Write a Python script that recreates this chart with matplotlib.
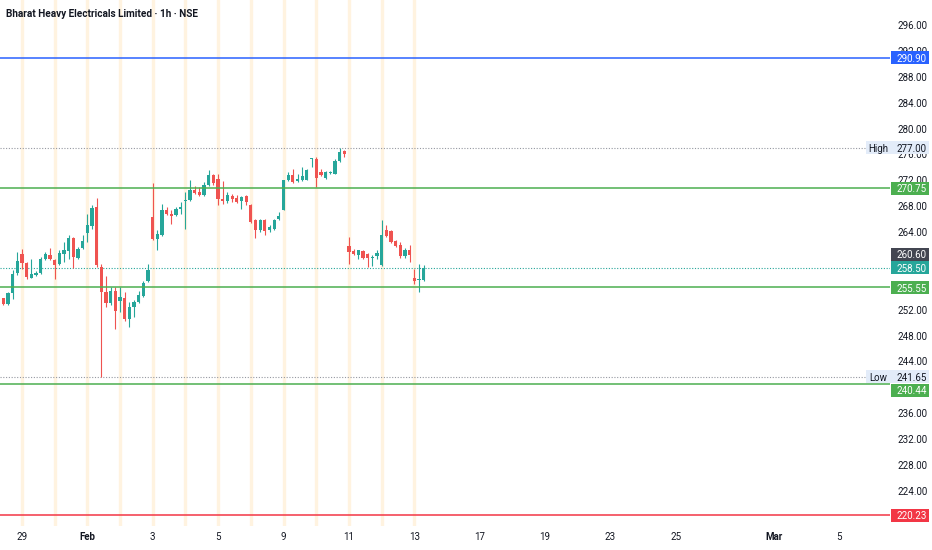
import numpy as np
import matplotlib
matplotlib.use('Agg')
import matplotlib.pyplot as plt
from matplotlib import transforms
from matplotlib.patches import Rectangle

plt.rcParams['font.family'] = ['Roboto', 'DejaVu Sans']

title = 'Bharat Heavy Electricals Limited · 1h · NSE'

# hourly bars, 7 per session; the first 4 are the tail of 28 Jan
opens = [253.77, 252.90, 254.55, 257.64,
         260.65, 259.19, 256.93, 257.29, 257.70, 259.81, 260.49,
         259.61, 258.99, 260.58, 261.00, 263.06, 259.97, 261.58,
         263.84, 264.92, 267.82, 258.57, 254.81, 253.00, 254.96,
         253.31, 253.83, 250.58, 252.38, 253.26, 254.19, 256.40,
         266.31, 262.86, 263.48, 267.46, 266.84, 266.58, 267.61,
         268.79, 269.01, 270.45, 270.19, 269.78, 271.22, 272.77,
         272.26, 269.16, 268.74, 269.52, 269.32, 268.74, 269.52,
         268.13, 265.80, 264.25, 265.80, 264.25, 264.52, 266.00,
         267.46, 272.00, 272.77, 271.84, 272.10, 272.10, 275.36,
         275.36, 273.28, 272.42, 273.19, 273.03, 274.99, 276.53,
         261.78, 261.05, 260.49, 261.05, 260.65, 259.97, 260.23,
         258.83, 264.36, 264.15, 262.60, 261.93, 260.23, 261.16,
         256.93, 256.62, 256.65]
highs = [253.88, 254.81, 258.06, 260.89,
         261.42, 259.35, 259.76, 258.01, 260.12, 260.89, 261.51,
         259.87, 261.16, 262.44, 263.48, 263.22, 261.67, 263.59,
         266.84, 268.23, 269.26, 259.10, 257.13, 255.47, 255.58,
         255.58, 254.70, 253.15, 253.52, 254.96, 256.51, 258.99,
         271.58, 264.25, 268.39, 267.86, 267.46, 267.86, 268.64,
         270.19, 272.10, 271.07, 270.96, 271.73, 273.55, 273.03,
         273.03, 271.89, 270.19, 269.94, 269.67, 269.52, 269.67,
         268.28, 266.07, 266.07, 266.07, 265.03, 266.07, 267.09,
         272.10, 273.28, 273.81, 273.03, 274.06, 273.81, 275.51,
         275.61, 273.81, 273.44, 273.44, 275.36, 277.00, 276.64,
         263.22, 261.42, 261.27, 261.27, 260.74, 260.38, 261.16,
         265.80, 265.03, 264.25, 262.71, 262.40, 261.47, 261.93,
         258.32, 258.99, 258.84]
lows = [252.75, 252.80, 253.68, 257.29,
        258.32, 256.77, 256.87, 257.18, 257.55, 259.72, 259.72,
        256.67, 258.83, 259.35, 259.87, 258.42, 259.87, 261.42,
        262.44, 264.52, 258.57, 241.65, 252.38, 252.80, 249.03,
        251.60, 250.21, 249.28, 250.94, 253.00, 253.93, 256.25,
        262.71, 261.16, 263.37, 266.58, 265.18, 266.42, 266.84,
        264.52, 268.79, 269.83, 269.52, 269.63, 271.07, 271.27,
        268.13, 268.39, 268.54, 268.64, 268.48, 267.61, 268.23,
        265.39, 263.06, 263.99, 263.48, 263.99, 264.36, 265.80,
        267.35, 271.89, 271.58, 271.73, 271.89, 272.00, 274.06,
        270.96, 272.62, 272.26, 273.03, 272.93, 274.83, 275.61,
        259.10, 260.38, 259.87, 259.87, 258.57, 258.68, 259.87,
        258.68, 263.22, 262.29, 261.63, 259.97, 259.92, 259.35,
        256.00, 254.70, 256.51]
closes = [252.84, 254.55, 257.55, 259.50,
          259.19, 257.02, 257.55, 257.70, 259.87, 260.58, 259.87,
          258.83, 260.80, 261.16, 263.06, 260.12, 261.42, 262.55,
          265.03, 267.71, 258.83, 254.70, 253.00, 254.96, 251.87,
          253.93, 250.58, 252.49, 253.26, 254.34, 256.20, 258.06,
          262.97, 263.64, 267.35, 266.73, 266.53, 267.61, 267.86,
          269.01, 270.45, 270.03, 269.78, 271.22, 272.77, 271.53,
          269.16, 268.74, 269.67, 269.16, 268.64, 269.41, 268.64,
          265.54, 264.25, 265.80, 264.15, 264.77, 265.80, 266.42,
          272.00, 272.88, 271.73, 272.15, 272.62, 273.65, 275.51,
          272.42, 272.77, 273.28, 273.34, 274.99, 276.38, 276.02,
          260.89, 260.65, 261.16, 260.03, 260.03, 260.12, 260.74,
          263.48, 263.33, 262.44, 261.78, 260.23, 261.16, 260.38,
          256.40, 256.65, 258.50]

bars_per_session = 7
n_sessions_drawn = 13          # 29 Jan .. 13 Feb
date_labels = ['29', 'Feb', '3', '5', '9', '11', '13', '17', '19', '23', '25', 'Mar', '5']
date_sessions = [0, 2, 4, 6, 8, 10, 12, 14, 16, 18, 20, 23, 25]

levels = [290.90, 270.75, 255.55, 240.44, 220.23]
level_colors = ['#2962ff', '#4caf50', '#4caf50', '#4caf50', '#f23645']
high_price = 277.00
low_price = 241.65
last_price = 258.50
prev_close = 260.60
# scale values hidden by the price labels
price_ticks = [296, 292, 288, 284, 280, 276, 272, 268, 264, 252, 248, 244, 236, 232, 228, 224]

UP = '#26a69a'
DOWN = '#ef5350'
TXT = '#131722'
PX_PER_UNIT = 6.47

fig = plt.figure(figsize=(9.32, 5.5), dpi=100)
ax = fig.add_axes([0, 1 - 526 / 550, 890 / 932, 526 / 550])
ax.set_xlim(-4.71, 185.87)
ax.set_ylim(218.57, 299.86)
for s in ax.spines.values():
    s.set_visible(False)

# session breaks
for s in range(n_sessions_drawn):
    ax.axvline(s * bars_per_session, color='#fff3e0', lw=2.4, zorder=0)

# candles
o, h, l, c = map(np.array, (opens, highs, lows, closes))
x = np.arange(len(o)) - 4
col = np.where(c >= o, UP, DOWN)
ax.vlines(x, l, h, colors=col, lw=0.8, zorder=2)
ax.bar(x, np.maximum(np.abs(c - o), 0.12), bottom=np.minimum(o, c), width=0.7,
       color=col, lw=0, zorder=2)

# horizontal levels
for lv, lc in zip(levels, level_colors):
    ax.axhline(lv, color=lc, lw=1.1, zorder=3)
for p in (high_price, low_price):
    ax.axhline(p, color='#9598a1', lw=0.8, ls=(0, (1, 1.5)), zorder=1)
ax.axhline(last_price, color=UP, lw=0.8, ls=(0, (1, 1.5)), zorder=1)

# price scale
ax.yaxis.tick_right()
ax.set_yticks(price_ticks)
ax.yaxis.set_major_formatter(matplotlib.ticker.FormatStrFormatter('%.2f'))
ax.tick_params(axis='y', length=0, pad=5.5, labelsize=7, labelcolor=TXT)

ax.set_xticks([s * bars_per_session for s in date_sessions], date_labels)
ax.tick_params(axis='x', length=0, pad=4.5, labelsize=7, labelcolor=TXT)
for lbl in ax.get_xticklabels():
    if lbl.get_text() in ('Feb', 'Mar'):
        lbl.set_fontweight('bold')

blend = transforms.blended_transform_factory(ax.transAxes, ax.transData)
box_h = 13 / PX_PER_UNIT


def price_label(price, face, fg, shift_px=0, tag=None):
    yc = price - shift_px / PX_PER_UNIT
    x0 = (866 if tag else 891) / 890
    ax.add_patch(Rectangle((x0, yc - box_h / 2), 929 / 890 - x0, box_h, transform=blend,
                           fc=face, ec='none', clip_on=False, zorder=6))
    ax.text(911.5 / 890, yc, f'{price:.2f}', transform=blend, ha='center',
            va='center_baseline', color=fg, fontsize=7, zorder=7, clip_on=False)
    if tag:
        ax.text(878 / 890, yc, tag, transform=blend, ha='center', va='center_baseline',
                color=fg, fontsize=7, zorder=7, clip_on=False)


price_label(levels[0], level_colors[0], 'white')
price_label(high_price, '#e3ecf9', TXT, tag='High')
price_label(levels[1], level_colors[1], 'white')
price_label(prev_close, '#434651', 'white')
price_label(last_price, UP, 'white')
price_label(levels[2], level_colors[2], 'white', shift_px=1)
price_label(low_price, '#e3ecf9', TXT, tag='Low')
price_label(levels[3], level_colors[3], 'white', shift_px=6)
price_label(levels[4], level_colors[4], 'white')

fig.text(6 / 932, 1 - 14 / 550, title, fontsize=7.2, fontweight='bold', color=TXT,
         va='center', ha='left')

fig.savefig('out.png', dpi=100)
